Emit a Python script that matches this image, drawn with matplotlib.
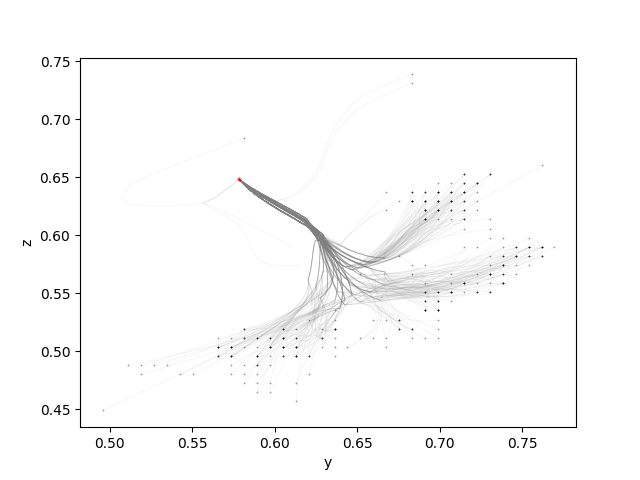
import matplotlib
matplotlib.use("Agg")
import matplotlib.pyplot as plt
import numpy as np
from matplotlib.path import Path
from matplotlib.patches import PathPatch

# --- end points, one row per z value, n = how many tracks land on that point ---
row_z = [0.6603, 0.6526, 0.6448, 0.6371, 0.6293, 0.6216, 0.6138, 0.6052, 0.5974, 0.5897,
         0.5819, 0.5741, 0.5664, 0.5586, 0.5509, 0.5431, 0.5353, 0.5267, 0.5190, 0.5112,
         0.5034, 0.4957, 0.4879, 0.4802, 0.4724, 0.4647, 0.4569, 0.4491]
row_y = [
    [0.7623],
    [0.7150, 0.7308],
    [0.6993, 0.7072, 0.7150, 0.7229],
    [0.6678, 0.6835, 0.6914, 0.6993, 0.7072, 0.7150, 0.7229],
    [0.6756, 0.6835, 0.6914, 0.6993, 0.7072, 0.7150, 0.7229],
    [0.6678, 0.6914, 0.6993, 0.7072, 0.7150, 0.7229],
    [0.6914, 0.6993, 0.7072, 0.7150, 0.7308],
    [0.7150, 0.7308],
    [0.7308, 0.7387, 0.7544],
    [0.7150, 0.7229, 0.7387, 0.7465, 0.7544, 0.7623, 0.7695],
    [0.6756, 0.7308, 0.7387, 0.7465, 0.7544, 0.7623],
    [0.6835, 0.6914, 0.7308, 0.7387, 0.7465, 0.7544],
    [0.6520, 0.6835, 0.7072, 0.7229, 0.7308, 0.7387, 0.7465],
    [0.6914, 0.7072, 0.7150, 0.7229, 0.7308, 0.7387],
    [0.6914, 0.6993, 0.7072, 0.7150, 0.7229, 0.7308],
    [0.6914, 0.6993, 0.7072],
    [0.6368, 0.6914, 0.6993],
    [0.6211, 0.6368, 0.6599, 0.6678, 0.6756, 0.6993],
    [0.5817, 0.6053, 0.6132, 0.6290, 0.6368, 0.6756, 0.6835, 0.6993],
    [0.5659, 0.5738, 0.5817, 0.5896, 0.5975, 0.6053, 0.6132, 0.6290, 0.6368, 0.6520,
     0.6599, 0.6678, 0.6835, 0.6914, 0.6993],
    [0.5659, 0.5738, 0.5817, 0.5896, 0.5975, 0.6053, 0.6132, 0.6290, 0.6368, 0.6441, 0.6678],
    [0.5659, 0.5738, 0.5896, 0.5975, 0.6053, 0.6132, 0.6211, 0.6368],
    [0.5114, 0.5193, 0.5272, 0.5350, 0.5738, 0.5817, 0.5896, 0.5975],
    [0.5193, 0.5429, 0.5508, 0.5738, 0.5817, 0.5896, 0.6211],
    [0.5817, 0.5896, 0.5975, 0.6132],
    [0.5896, 0.5975],
    [0.6132],
    [0.4962],
]
row_n = [
    [1],
    [3, 3],
    [1, 1, 3, 4],
    [1, 3, 3, 5, 5, 5, 1],
    [1, 5, 5, 5, 5, 3, 1],
    [1, 5, 5, 3, 3, 1],
    [5, 1, 1, 3, 1],
    [1, 1],
    [1, 1, 1],
    [1, 1, 1, 3, 5, 5, 1],
    [1, 1, 3, 5, 3, 3],
    [1, 1, 1, 5, 1, 1],
    [1, 1, 1, 1, 5, 3, 1],
    [1, 1, 5, 1, 1, 5],
    [3, 3, 5, 1, 3, 3],
    [3, 3, 1],
    [1, 5, 5],
    [1, 1, 1, 1, 3, 1],
    [3, 3, 1, 1, 5, 3, 3, 1],
    [1, 1, 3, 3, 3, 5, 3, 3, 1, 1, 1, 1, 1, 1, 1],
    [5, 5, 1, 1, 5, 5, 5, 1, 1, 1, 1],
    [3, 5, 5, 1, 3, 5, 3, 1],
    [1, 1, 1, 1, 1, 1, 3, 1],
    [1, 1, 1, 1, 1, 1, 1],
    [1, 1, 1, 1],
    [1, 1],
    [1],
    [1],
]

# --- start cluster (red) ---
start_y = [0.5780, 0.5785, 0.5790, 0.5785]
start_z = [0.6485, 0.6495, 0.6480, 0.6475]
start = (0.5788, 0.6481)

# --- every track is a chain of cubic segments: control, control, point ---
heads = [
    [(0.5894, 0.6339), (0.6064, 0.6235), (0.6185, 0.6123)],
    [(0.5892, 0.6333), (0.6060, 0.6228), (0.6180, 0.6115)],
    [(0.5896, 0.6345), (0.6068, 0.6242), (0.6190, 0.6130)],
    [(0.5893, 0.6336), (0.6062, 0.6232), (0.6183, 0.6120)],
    [(0.5888, 0.6313), (0.6052, 0.6201), (0.6173, 0.6097)],
    [(0.5900, 0.6356), (0.6076, 0.6253), (0.6197, 0.6140)],
    [(0.5882, 0.6320), (0.6045, 0.6215), (0.6165, 0.6106)],
]

# short stretch where the bundle is still tight
mids = [
    [(0.6221, 0.6072), (0.6252, 0.6028), (0.6276, 0.5977)],
    [(0.6215, 0.6065), (0.6240, 0.6010), (0.6264, 0.5960)],
    [(0.6227, 0.6080), (0.6268, 0.6040), (0.6294, 0.6003)],
    [(0.6227, 0.6072), (0.6285, 0.6000), (0.6312, 0.5943)],
    [(0.6218, 0.6075), (0.6235, 0.6035), (0.6252, 0.6003)],
]

upper_tails = [
    [(0.6288, 0.5985), (0.6367, 0.5804), (0.6548, 0.5744)],
    [(0.6276, 0.5960), (0.6348, 0.5787), (0.6506, 0.5718)],
    [(0.6306, 0.6003), (0.6385, 0.5830), (0.6579, 0.5761)],
    [(0.6264, 0.5985), (0.6336, 0.5770), (0.6470, 0.5701)],
    [(0.6306, 0.5985), (0.6427, 0.5770), (0.6609, 0.5770)],
    [(0.6264, 0.6003), (0.6312, 0.5830), (0.6427, 0.5727)],
    [(0.6324, 0.6003), (0.6470, 0.5804), (0.6670, 0.5804)],
]
upper_ctrl = [
    [(0.6670, 0.5770), (0.6851, 0.6003)],
    [(0.6730, 0.5804), (0.6912, 0.6063)],
    [(0.6688, 0.5830), (0.6821, 0.6089)],
    [(0.6761, 0.5770), (0.6972, 0.5977)],
    [(0.6609, 0.5770), (0.6761, 0.5960)],
    [(0.6639, 0.5890), (0.6761, 0.6089)],
]

near_tails = [[(0.6300, 0.5960), (0.6336, 0.5916), (0.6367, 0.5873)]]
near_ctrl = [[(0.6427, 0.5960), (0.6548, 0.6175)]]

right_tails = [
    [(0.6288, 0.5960), (0.6367, 0.5701), (0.6548, 0.5572)],
    [(0.6306, 0.5985), (0.6385, 0.5770), (0.6548, 0.5658)],
    [(0.6288, 0.5985), (0.6367, 0.5804), (0.6579, 0.5718)],
    [(0.6264, 0.5960), (0.6306, 0.5658), (0.6488, 0.5485)],
    [(0.6288, 0.5960), (0.6348, 0.5615), (0.6518, 0.5424)],
    [(0.6324, 0.5960), (0.6427, 0.5658), (0.6609, 0.5615)],
    [(0.6276, 0.6003), (0.6367, 0.5572), (0.6579, 0.5511)],
    [(0.6306, 0.5916), (0.6336, 0.5529), (0.6427, 0.5399)],
    [(0.6264, 0.6003), (0.6397, 0.5770), (0.6458, 0.5572)],
    [(0.6288, 0.5942), (0.6470, 0.5727), (0.6670, 0.5684)],
    [(0.6276, 0.5960), (0.6324, 0.5770), (0.6427, 0.5632)],
    [(0.6312, 0.5985), (0.6409, 0.5529), (0.6639, 0.5442)],
    [(0.6252, 0.5985), (0.6288, 0.5770), (0.6385, 0.5511)],
]
right_ctrl = [
    [(0.6639, 0.5529), (0.6942, 0.5485)],
    [(0.6670, 0.5615), (0.6912, 0.5615)],
    [(0.6670, 0.5442), (0.6942, 0.5442)],
    [(0.6730, 0.5485), (0.7033, 0.5572)],
    [(0.6639, 0.5572), (0.6882, 0.5399)],
    [(0.6730, 0.5658), (0.7003, 0.5744)],
]
low_right_ctrl = [
    [(0.6609, 0.5399), (0.6730, 0.5227)],
    [(0.6579, 0.5485), (0.6670, 0.5270)],
    [(0.6639, 0.5442), (0.6761, 0.5313)],
]

left_tails = [
    [(0.6276, 0.5960), (0.6336, 0.5744), (0.6318, 0.5529)],
    [(0.6288, 0.6003), (0.6427, 0.5744), (0.6367, 0.5442)],
    [(0.6264, 0.5960), (0.6288, 0.5744), (0.6252, 0.5572)],
    [(0.6306, 0.5960), (0.6458, 0.5658), (0.6397, 0.5373)],
    [(0.6245, 0.6003), (0.6324, 0.5770), (0.6288, 0.5658)],
    [(0.6264, 0.5985), (0.6385, 0.5701), (0.6427, 0.5442)],
    [(0.6227, 0.5985), (0.6239, 0.5770), (0.6203, 0.5615)],
    [(0.6312, 0.5960), (0.6427, 0.5770), (0.6470, 0.5485)],
    [(0.6276, 0.5960), (0.6306, 0.5804), (0.6354, 0.5632)],
    [(0.6288, 0.5985), (0.6458, 0.5658), (0.6276, 0.5460)],
]
far_left_ctrl = [
    [(0.6264, 0.5373), (0.6094, 0.5252)],
    [(0.6245, 0.5399), (0.6064, 0.5287)],
    [(0.6288, 0.5330), (0.6124, 0.5184)],
    [(0.6227, 0.5442), (0.6033, 0.5227)],
]
near_left_ctrl = [
    [(0.6336, 0.5313), (0.6245, 0.5097)],
    [(0.6306, 0.5313), (0.6185, 0.5140)],
    [(0.6367, 0.5270), (0.6276, 0.5011)],
    [(0.6276, 0.5356), (0.6155, 0.5140)],
]

# --- the odd tracks that leave the main bundle early ---
top_track_a = [(0.5852, 0.6347), (0.5924, 0.6278), (0.6033, 0.6304),
               (0.6155, 0.6339), (0.6264, 0.6520), (0.6294, 0.6675),
               (0.6324, 0.6865), (0.6427, 0.7123), (0.6548, 0.7210),
               (0.6639, 0.7279), (0.6761, 0.7356), (0.6833, 0.7388)]
top_track_b = [(0.5852, 0.6347), (0.5924, 0.6278), (0.6033, 0.6304),
               (0.6155, 0.6322), (0.6276, 0.6494), (0.6306, 0.6675),
               (0.6336, 0.6839), (0.6445, 0.7063), (0.6567, 0.7140),
               (0.6670, 0.7209), (0.6761, 0.7270), (0.6833, 0.7313)]
loop_track = [(0.5700, 0.6391), (0.5639, 0.6305), (0.5561, 0.6279),
              (0.5397, 0.6244), (0.5245, 0.6253), (0.5124, 0.6270),
              (0.5052, 0.6279), (0.5064, 0.6348), (0.5142, 0.6451),
              (0.5306, 0.6563), (0.5548, 0.6684), (0.5815, 0.6839)]
stray_a = [(0.5700, 0.6391), (0.5639, 0.6305), (0.5561, 0.6279),
           (0.5700, 0.6175), (0.5821, 0.6089), (0.5852, 0.5916),
           (0.5882, 0.5770), (0.5942, 0.5718), (0.6155, 0.5744)]
stray_b = [(0.5700, 0.6391), (0.5639, 0.6305), (0.5561, 0.6279),
           (0.5730, 0.6201), (0.5973, 0.6003), (0.6112, 0.5899)]


def add_track(ax, segments):
    codes = [Path.MOVETO] + [Path.CURVE4] * len(segments)
    path = Path([start] + segments, codes)
    ax.add_patch(PathPatch(path, fill=False, edgecolor="gray", lw=0.5, alpha=0.1))


fig, ax = plt.subplots()

end_y, end_z, end_n = [], [], []
count = 0
for z, ys, ns in zip(row_z, row_y, row_n):
    for y, n in zip(ys, ns):
        end_y.append(y)
        end_z.append(z)
        end_n.append(n)
        for k in range(n):
            count += 1
            if z >= 0.60 and y < 0.68:
                tails, ctrl = near_tails, near_ctrl
            elif z >= 0.60:
                tails, ctrl = upper_tails, upper_ctrl
            elif y >= 0.67 and z >= 0.53 or y >= 0.65 and z >= 0.56:
                tails, ctrl = right_tails, right_ctrl
            elif y >= 0.64:
                tails, ctrl = right_tails, low_right_ctrl
            elif y < 0.60:
                tails, ctrl = left_tails, far_left_ctrl
            else:
                tails, ctrl = left_tails, near_left_ctrl
            head = heads[count % len(heads)]
            mid = mids[count % len(mids)]
            tail = tails[count % len(tails)]
            lead = ctrl[(len(end_y) + k) % len(ctrl)]
            add_track(ax, head + mid + tail + lead + [(y, z)])

for track in [top_track_a, top_track_b, loop_track, stray_a, stray_b]:
    add_track(ax, track)

for track in [top_track_a, top_track_b, loop_track]:
    end_y.append(track[-1][0])
    end_z.append(track[-1][1])
    end_n.append(1)

ax.scatter(np.repeat(end_y, end_n), np.repeat(end_z, end_n), marker="+", s=4.5, lw=0.5,
           color="black", alpha=0.4)
ax.scatter(start_y, start_z, marker="+", s=4, lw=0.8, color="red", alpha=0.8)

ax.set_xlim(0.4821, 0.7827)
ax.set_ylim(0.4346, 0.7532)
ax.set_xlabel("y")
ax.set_ylabel("z")

fig.savefig("out.png", dpi=100)
